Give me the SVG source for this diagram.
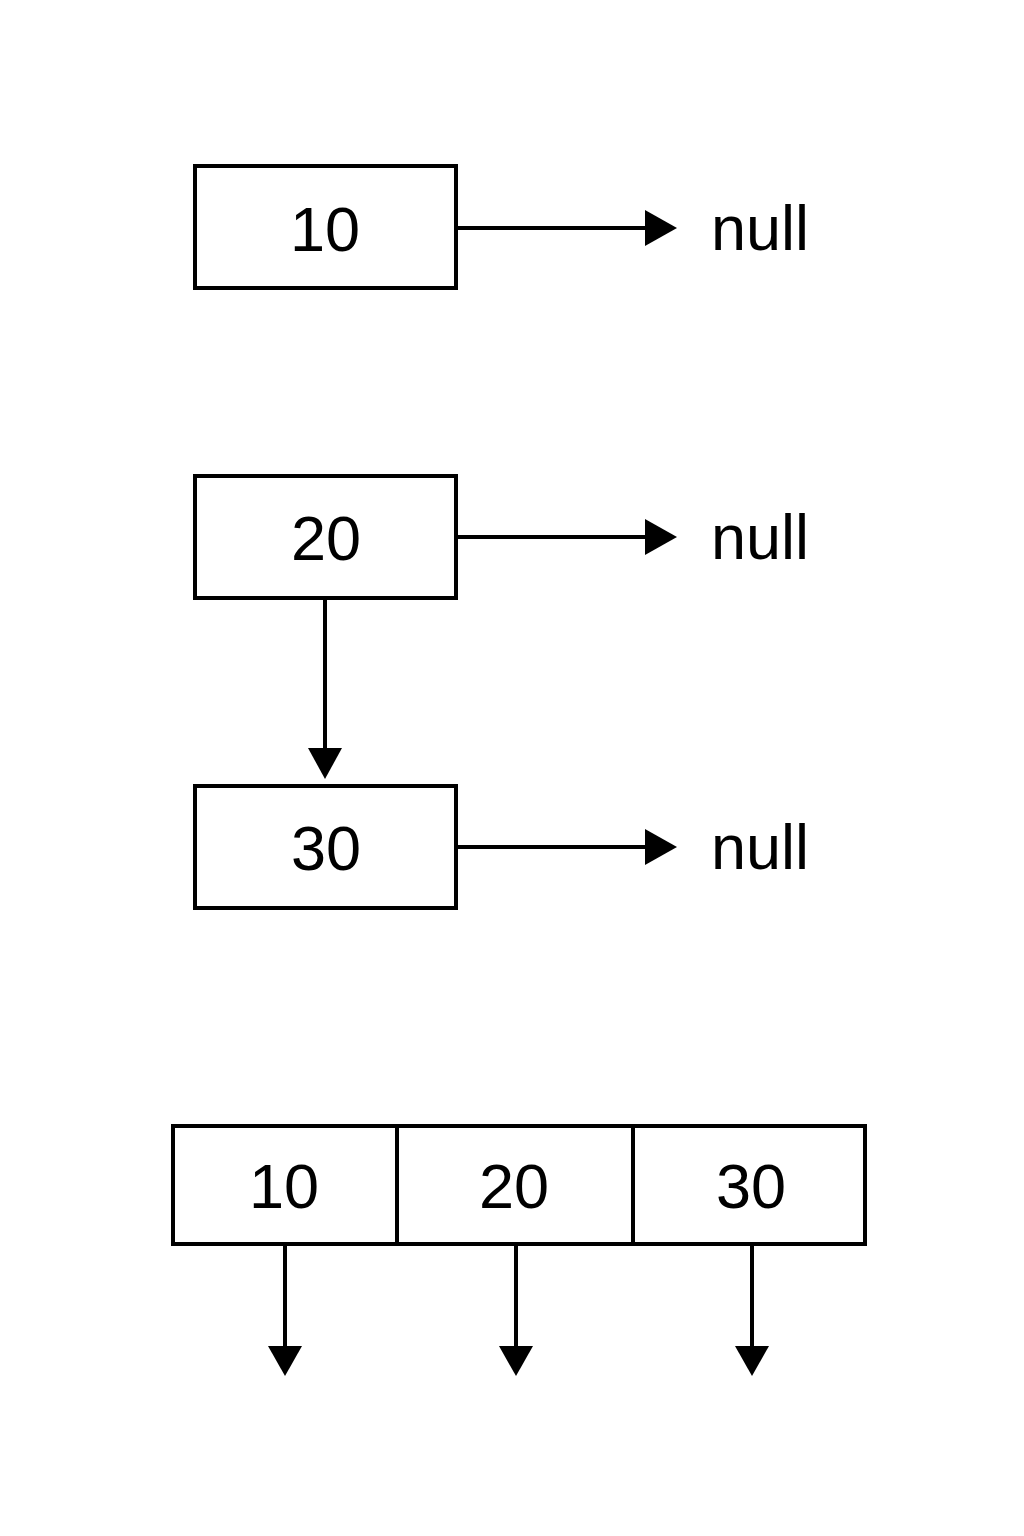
<svg xmlns="http://www.w3.org/2000/svg" width="1024" height="1536" viewBox="0 0 1024 1536">
<defs>
<style>
.box{fill:#fff;stroke:#000;stroke-width:4}
.ln{stroke:#000;stroke-width:4;fill:none}
.ah{fill:#000}
.t{font-family:"Liberation Sans",Arial,sans-serif;font-size:63px;fill:#000}
.c{text-anchor:middle}
</style>
</defs>
<rect width="1024" height="1536" fill="#fff"/>
<g id="connectors">
<line class="ln" x1="456" y1="228" x2="648" y2="228"/>
<polygon class="ah" points="645,210 677,228 645,246"/>
<line class="ln" x1="456" y1="537" x2="648" y2="537"/>
<polygon class="ah" points="645,519 677,537 645,555"/>
<line class="ln" x1="456" y1="847" x2="648" y2="847"/>
<polygon class="ah" points="645,829 677,847 645,865"/>
<line class="ln" x1="325" y1="598" x2="325" y2="752"/>
<polygon class="ah" points="308,748 342,748 325,779"/>
<line class="ln" x1="285" y1="1244" x2="285" y2="1350"/>
<polygon class="ah" points="268,1346 302,1346 285,1376"/>
<line class="ln" x1="516" y1="1244" x2="516" y2="1350"/>
<polygon class="ah" points="499,1346 533,1346 516,1376"/>
<line class="ln" x1="752" y1="1244" x2="752" y2="1350"/>
<polygon class="ah" points="735,1346 769,1346 752,1376"/>
</g>
<g id="node10">
<rect class="box" x="195" y="166" width="261" height="122"/>
<text class="t c" x="325" y="251">10</text>
</g>
<g id="null1"><text class="t" x="711" y="250">null</text></g>
<g id="node20">
<rect class="box" x="195" y="476" width="261" height="122"/>
<text class="t c" x="326" y="560">20</text>
</g>
<g id="null2"><text class="t" x="711" y="559">null</text></g>
<g id="node30">
<rect class="box" x="195" y="786" width="261" height="122"/>
<text class="t c" x="326" y="870">30</text>
</g>
<g id="null3"><text class="t" x="711" y="869">null</text></g>
<g id="array">
<rect class="box" x="173" y="1126" width="692" height="118"/>
<line class="ln" x1="397" y1="1126" x2="397" y2="1244"/>
<line class="ln" x1="633" y1="1126" x2="633" y2="1244"/>
<text class="t c" x="284" y="1208">10</text>
<text class="t c" x="514" y="1208">20</text>
<text class="t c" x="751" y="1208">30</text>
</g>
</svg>
